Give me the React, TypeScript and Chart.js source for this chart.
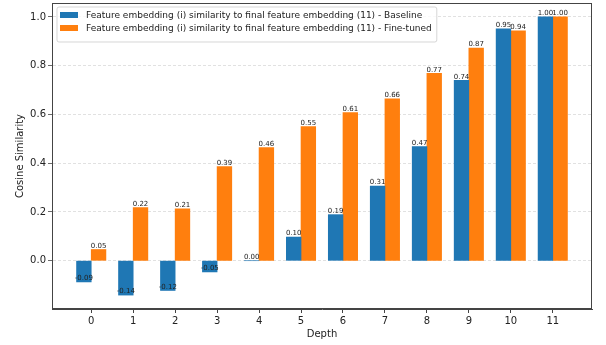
import React, { useEffect, useRef } from 'react';
import { Chart, registerables } from 'chart.js';

Chart.register(...registerables);

const depths = [0, 1, 2, 3, 4, 5, 6, 7, 8, 9, 10, 11];
const baseline = [-0.087, -0.141, -0.122, -0.046, 0.0, 0.097, 0.189, 0.306, 0.468, 0.74, 0.951, 1.0];
const fineTuned = [0.046, 0.218, 0.213, 0.386, 0.464, 0.55, 0.608, 0.664, 0.769, 0.872, 0.943, 1.0];
const yTicks = [0, 0.2, 0.4, 0.6, 0.8, 1.0];
const seriesLabels = [
  'Feature embedding (i) similarity to final feature embedding (11) - Baseline',
  'Feature embedding (i) similarity to final feature embedding (11) - Fine-tuned',
];
const seriesColors = ['#1f77b4', '#ff7f0e'];
const barWidth = 0.35;

const FONT = "'DejaVu Sans', sans-serif";

// matplotlib-like auto limits (5% margins)
const xLo = depths[0] - barWidth;
const xHi = depths[depths.length - 1] + barWidth;
const xPad = (xHi - xLo) * 0.05;
const allVals = [...baseline, ...fineTuned, 0];
const yLo = Math.min(...allVals);
const yHi = Math.max(...allVals);
const yPad = (yHi - yLo) * 0.05;

const framePlugin = {
  id: 'frame',
  afterDraw(chart: any) {
    const { ctx, chartArea } = chart;
    ctx.save();
    ctx.strokeStyle = '#444';
    ctx.lineWidth = 1;
    ctx.strokeRect(Math.round(chartArea.left) + 0.5, Math.round(chartArea.top) + 0.5,
      Math.round(chartArea.right - chartArea.left) - 1, Math.round(chartArea.bottom - chartArea.top) - 1);
    ctx.restore();
  },
};

const valueLabelPlugin = {
  id: 'valueLabels',
  afterDatasetsDraw(chart: any) {
    const { ctx } = chart;
    const yScale = chart.scales.y;
    ctx.save();
    ctx.font = `7px ${FONT}`;
    ctx.fillStyle = '#222';
    ctx.textAlign = 'center';
    ctx.textBaseline = 'bottom';
    chart.data.datasets.forEach((ds: any, di: number) => {
      const meta = chart.getDatasetMeta(di);
      meta.data.forEach((el: any, i: number) => {
        const v = ds.data[i].y;
        const py = yScale.getPixelForValue(v);
        ctx.fillText(v.toFixed(2), el.x, py);
      });
    });
    ctx.restore();
  },
};

const legendPlugin = {
  id: 'boxLegend',
  afterDraw(chart: any) {
    const { ctx, chartArea } = chart;
    const fontSize = 9;
    ctx.save();
    ctx.font = `${fontSize}px ${FONT}`;
    const widths = seriesLabels.map((t) => ctx.measureText(t).width);
    const x0 = chartArea.left + 5;
    const y0 = chartArea.top + 4;
    const handleW = 18;
    const rowH = 13;
    const w = 3 + handleW + 8 + Math.max(...widths) + 5;
    const h = 8 + rowH * seriesLabels.length + 1;
    const r = 2;
    ctx.beginPath();
    ctx.moveTo(x0 + r, y0);
    ctx.arcTo(x0 + w, y0, x0 + w, y0 + h, r);
    ctx.arcTo(x0 + w, y0 + h, x0, y0 + h, r);
    ctx.arcTo(x0, y0 + h, x0, y0, r);
    ctx.arcTo(x0, y0, x0 + w, y0, r);
    ctx.closePath();
    ctx.fillStyle = 'rgba(255,255,255,0.8)';
    ctx.fill();
    ctx.strokeStyle = 'rgba(204,204,204,0.8)';
    ctx.lineWidth = 1;
    ctx.stroke();
    seriesLabels.forEach((t, i) => {
      const cy = y0 + 8 + rowH * i;
      ctx.fillStyle = seriesColors[i];
      ctx.fillRect(x0 + 3, cy - 3, handleW, 6);
      ctx.fillStyle = '#222';
      ctx.textAlign = 'left';
      ctx.textBaseline = 'middle';
      ctx.fillText(t, x0 + 3 + handleW + 8, cy + 0.5);
    });
    ctx.restore();
  },
};

const zeroPad = (scale: any) => {
  scale.paddingTop = 0;
  scale.paddingBottom = 0;
  scale.paddingLeft = 0;
  scale.paddingRight = 0;
};

export default function App() {
  const ref = useRef<HTMLCanvasElement | null>(null);
  useEffect(() => {
    if (!ref.current) return;
    const chart = new Chart(ref.current, {
      type: 'bar',
      data: {
        datasets: [
          {
            label: seriesLabels[0],
            data: depths.map((d, i) => ({ x: d - barWidth / 2, y: baseline[i] })),
            backgroundColor: seriesColors[0],
            borderWidth: 0,
          },
          {
            label: seriesLabels[1],
            data: depths.map((d, i) => ({ x: d + barWidth / 2, y: fineTuned[i] })),
            backgroundColor: seriesColors[1],
            borderWidth: 0,
          },
        ],
      },
      options: {
        responsive: false,
        animation: false,
        devicePixelRatio: 1,
        grouped: false,
        barPercentage: 1,
        categoryPercentage: 1,
        layout: { padding: { left: 0, right: 14, top: 3, bottom: 0 } },
        plugins: { legend: { display: false }, tooltip: { enabled: false } },
        scales: {
          x: {
            type: 'linear',
            offset: false,
            min: xLo - xPad,
            max: xHi + xPad,
            afterBuildTicks: (scale: any) => {
              scale.ticks = depths.map((v) => ({ value: v }));
            },
            afterFit: (scale: any) => {
              scale.height = 36;
              zeroPad(scale);
            },
            ticks: {
              font: { family: FONT, size: 10 },
              color: '#222',
              padding: 2,
              maxRotation: 0,
              autoSkip: false,
              callback: (v: any) => String(v),
            },
            grid: { offset: false, drawOnChartArea: false, drawTicks: true, tickLength: 4, tickColor: '#444' },
            border: { display: true, color: '#444' },
            title: {
              display: true,
              text: 'Depth',
              font: { family: FONT, size: 10 },
              color: '#222',
              padding: { top: 0, bottom: 5 },
            },
          },
          y: {
            type: 'linear',
            min: yLo - yPad,
            max: yHi + yPad,
            afterBuildTicks: (scale: any) => {
              scale.ticks = yTicks.map((v) => ({ value: v }));
            },
            afterFit: (scale: any) => {
              scale.width = 52;
              zeroPad(scale);
            },
            ticks: {
              font: { family: FONT, size: 10 },
              color: '#222',
              padding: 2,
              callback: (v: any) => Number(v).toFixed(1),
            },
            grid: {
              color: 'rgba(0,0,0,0.15)',
              tickBorderDash: [],
              tickLength: 4,
              tickColor: '#444',
              lineWidth: 0.8,
            },
            border: { display: true, color: '#444', dash: [3, 2] },
            title: {
              display: true,
              text: 'Cosine Similarity',
              font: { family: FONT, size: 10 },
              color: '#222',
              padding: { top: 14, bottom: 0 },
            },
          },
        },
      } as any,
      plugins: [framePlugin, valueLabelPlugin, legendPlugin],
    });
    return () => chart.destroy();
  }, []);
  return (
    <div style={{ position: 'absolute', left: 0, top: 0, width: 606, height: 345, background: '#fff' }}>
      <canvas ref={ref} width={606} height={345} />
    </div>
  );
}
